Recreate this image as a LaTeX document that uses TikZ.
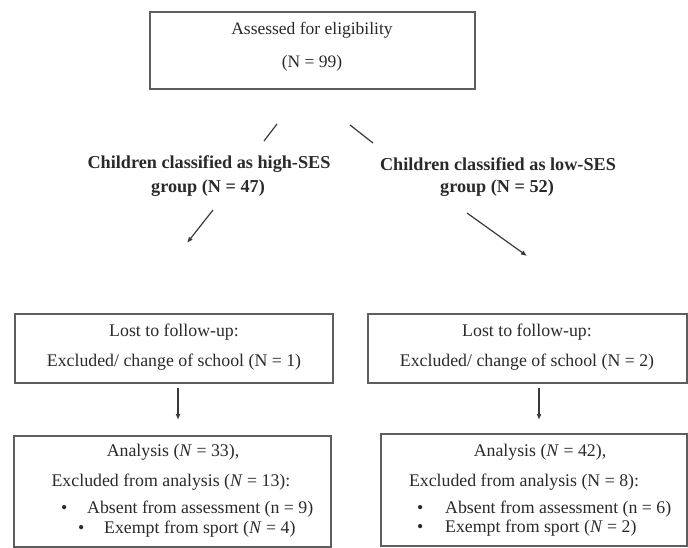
\documentclass[tikz,border=0pt]{standalone}
\usepackage{fontspec}
\setmainfont{Liberation Serif}
\usetikzlibrary{arrows.meta}
\definecolor{boxgray}{HTML}{5E5E5E}
\definecolor{txtgray}{HTML}{2A2A2A}
\definecolor{linegray}{HTML}{3A3A3A}
\begin{document}
\begin{tikzpicture}[x=1pt,y=-1pt,
  box/.style={draw=boxgray, line width=1.3pt, inner sep=0pt},
  txt/.style={font=\fontsize{17.8}{20}\selectfont, text=txtgray, inner sep=0pt},
  ttxt/.style={font=\fontsize{17.5}{20}\selectfont, text=txtgray, inner sep=0pt},
  btxt/.style={font=\fontsize{18.2}{20}\selectfont\bfseries, text=txtgray, inner sep=0pt},
  conn/.style={draw=linegray, line width=1.2pt},
  arr/.style={conn, -{Latex[length=6pt,width=5pt]}}]
\useasboundingbox[fill=white] (0,0) rectangle (688,548);

% top box
\node[box, minimum width=325pt, minimum height=77pt] (top) at (312.5,50.5) {};
\node[ttxt] (t1) at (312,30) {Assessed for eligibility};
\node[ttxt] (t2) at (312,63) {(N = 99)};

% group labels
\node[btxt] (g1a) at (209,164) {Children classified as high-SES};
\node[btxt] (g1b) at (208,188) {group (N = 47)};
\node[btxt] (g2a) at (498,164) {Children classified as low-SES};
\node[btxt] (g2b) at (497,188) {group (N = 52)};

% short strokes under top box
\coordinate (s1a) at (277,124);
\coordinate (s1b) at (264,141);
\coordinate (s2a) at (350,125);
\coordinate (s2b) at (373,143);
\draw[conn] (s1a) -- (s1b);
\draw[conn] (s2a) -- (s2b);

% diagonal arrows
\coordinate (a1a) at (213,210);
\coordinate (a1b) at (187,243);
\coordinate (a2a) at (467,213);
\coordinate (a2b) at (527,256);
\draw[arr] (a1a) -- (a1b);
\draw[arr] (a2a) -- (a2b);

% middle boxes
\node[box, minimum width=318pt, minimum height=69pt] (midL) at (174,348.5) {};
\node[box, minimum width=319pt, minimum height=69pt] (midR) at (527.5,348.5) {};
\node[txt] (mL1) at (174,332) {Lost to follow-up:};
\node[txt] (mL2) at (174,362) {Excluded/ change of school (N = 1)};
\node[txt] (mR1) at (527,332) {Lost to follow-up:};
\node[txt] (mR2) at (527,362) {Excluded/ change of school (N = 2)};

% down arrows
\coordinate (dL1) at (178,388);
\coordinate (dL2) at (178,420);
\coordinate (dR1) at (539,388);
\coordinate (dR2) at (539,420);
\draw[arr] (dL1) -- (dL2);
\draw[arr] (dR1) -- (dR2);

% bottom boxes
\node[box, minimum width=317pt, minimum height=111pt] (botL) at (172.5,491.5) {};
\node[box, minimum width=306pt, minimum height=112pt] (botR) at (534,490) {};

\node[txt] (bL1) at (173,452) {Analysis (\textit{N} = 33),};
\node[txt] (bL2) at (171,482) {Excluded from analysis (\textit{N} = 13):};
\node[txt, anchor=west] (bL3) at (61,509) {\makebox[26pt][l]{•}Absent from assessment (n = 9)};
\node[txt, anchor=west] (bL4) at (78,529) {\makebox[26pt][l]{•}Exempt from sport (\textit{N} = 4)};

\node[txt] (bR1) at (540,452) {Analysis (\textit{N} = 42),};
\node[txt] (bR2) at (524,482) {Excluded from analysis (N = 8):};
\node[txt, anchor=west] (bR3) at (417,509) {\makebox[28pt][l]{•}Absent from assessment (n = 6)};
\node[txt, anchor=west] (bR4) at (417,528) {\makebox[28pt][l]{•}Exempt from sport (\textit{N} = 2)};
\end{tikzpicture}
\end{document}
